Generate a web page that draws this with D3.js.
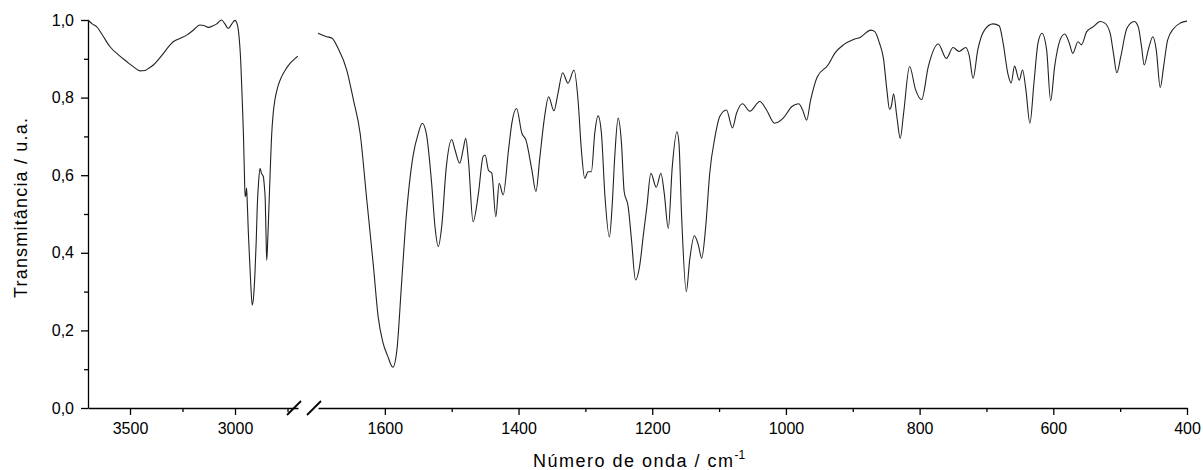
<!DOCTYPE html>
<meta charset="utf-8">
<style>
body { margin: 0; background: #fff; }
text { font-family: "Liberation Sans", Arial, sans-serif; fill: #000; }
.axis path, .axis line { stroke: #000; stroke-width: 1.3px; }
.axis text { font-size: 16px; }
.spectrum { fill: none; stroke: #222; stroke-width: 1.1px; stroke-linejoin: round; }
.break-mark { stroke: #000; stroke-width: 1.8px; }
</style>
<body>
<script src="https://cdn.jsdelivr.net/npm/d3@7"></script>
<script>

// left part of the broken axis (O-H / C-H stretch region)
var leftWavenumber = [3700, 3680, 3659, 3630, 3595, 3555, 3516, 3480, 3452, 3429, 3410, 3389, 3365, 3341,
  3318, 3294, 3260, 3230, 3200, 3167, 3145, 3127, 3105, 3087, 3064, 3048, 3032, 3015, 3000, 2990, 2984,
  2978, 2973, 2966, 2960, 2955, 2952, 2948, 2945, 2942, 2937, 2932, 2925, 2918, 2911, 2905, 2899, 2894,
  2888, 2881, 2874, 2865, 2860, 2856, 2852, 2849, 2845, 2840, 2833, 2825, 2818, 2810, 2795, 2778, 2758,
  2738, 2720, 2701];
var leftTransmittance = [1.0, 0.99, 0.983, 0.96, 0.931, 0.91, 0.893, 0.878, 0.869, 0.87, 0.876, 0.884, 0.898, 0.914,
  0.93, 0.944, 0.953, 0.961, 0.973, 0.987, 0.985, 0.981, 0.985, 0.99, 1.0, 0.99, 0.978, 0.99, 0.999, 0.99, 0.974,
  0.94, 0.897, 0.8, 0.708, 0.6, 0.545, 0.55, 0.567, 0.536, 0.46, 0.4, 0.32, 0.265, 0.29, 0.347, 0.43, 0.519,
  0.58, 0.618, 0.605, 0.596, 0.57, 0.536, 0.44, 0.381, 0.42, 0.493, 0.6, 0.708, 0.76, 0.794, 0.83, 0.854, 0.873,
  0.888, 0.898, 0.907];

// right part of the broken axis (fingerprint region)
var rightWavenumber = [1700, 1687, 1679, 1670, 1657, 1647, 1637, 1627, 1617, 1610, 1603, 1596, 1588, 1582, 1575,
  1568, 1558, 1550, 1544, 1538, 1530, 1525, 1520, 1515, 1508, 1500, 1495, 1488, 1483, 1479, 1475, 1468, 1460,
  1453, 1450, 1445, 1440, 1434, 1429, 1423, 1415, 1410, 1403, 1395, 1389, 1380, 1374, 1368, 1361, 1355, 1347,
  1341, 1334, 1326, 1317, 1311, 1306, 1301, 1296, 1291, 1286, 1281, 1276, 1271, 1264, 1260, 1256, 1251, 1246,
  1242, 1236, 1231, 1225, 1219, 1213, 1208, 1202, 1194, 1187, 1182, 1176, 1170, 1163, 1160, 1156, 1149, 1144,
  1137, 1131, 1126, 1120, 1114, 1106, 1099, 1089, 1080, 1074, 1065, 1054, 1039, 1029, 1017, 1004, 991, 981,
  975, 969, 963, 953, 937, 927, 914, 899, 889, 873, 867, 860, 854, 849, 845, 842, 839, 834, 829, 824, 815,
  806, 797, 787, 772, 760, 750, 741, 731, 726, 720, 713, 703, 690, 681, 675, 668, 663, 658, 651, 646, 641,
  635, 629, 623, 617, 610, 604, 598, 590, 583, 576, 571, 563, 558, 550, 540, 530, 523, 515, 510, 505, 499,
  490, 479, 473, 468, 464, 458, 451, 446, 440, 435, 429, 420, 410, 400];
var rightTransmittance = [0.966, 0.957, 0.953, 0.927, 0.871, 0.794, 0.708, 0.536, 0.364, 0.235, 0.17, 0.135, 0.105, 0.149, 0.321,
  0.493, 0.648, 0.708, 0.734, 0.708, 0.579, 0.467, 0.416, 0.467, 0.622, 0.692, 0.665, 0.631, 0.665, 0.695, 0.639, 0.48, 0.553,
  0.648, 0.652, 0.613, 0.605, 0.493, 0.579, 0.549, 0.665, 0.734, 0.772, 0.708, 0.691, 0.613, 0.558, 0.648, 0.751, 0.802, 0.766,
  0.811, 0.864, 0.837, 0.871, 0.794, 0.665, 0.592, 0.609, 0.609, 0.708, 0.753, 0.708, 0.553, 0.441, 0.52, 0.65, 0.747, 0.682,
  0.558, 0.519, 0.433, 0.33, 0.364, 0.45, 0.519, 0.605, 0.569, 0.605, 0.553, 0.463, 0.622, 0.712, 0.682, 0.493, 0.3, 0.381,
  0.444, 0.42, 0.386, 0.467, 0.605, 0.7, 0.751, 0.768, 0.722, 0.759, 0.784, 0.765, 0.79, 0.768, 0.734, 0.747, 0.777, 0.784,
  0.768, 0.742, 0.794, 0.854, 0.884, 0.914, 0.936, 0.95, 0.955, 0.974, 0.97, 0.94, 0.9, 0.82, 0.77, 0.78, 0.81, 0.75, 0.695, 0.759, 0.88,
  0.82, 0.795, 0.88, 0.938, 0.901, 0.929, 0.919, 0.929, 0.91, 0.85, 0.923, 0.974, 0.99, 0.985, 0.94, 0.862, 0.838, 0.881, 0.845, 0.871, 0.82,
  0.734, 0.837, 0.94, 0.966, 0.923, 0.792, 0.88, 0.948, 0.964, 0.94, 0.914, 0.944, 0.936, 0.97, 0.983, 0.996, 0.992, 0.966, 0.914, 0.864, 0.906,
  0.978, 0.996, 0.983, 0.931, 0.884, 0.923, 0.957, 0.923, 0.826, 0.88, 0.948, 0.978, 0.992, 0.997];

var leftMajorTicks = [3500, 3000],
    leftMinorTicks = [3250, 2750],
    rightMajorTicks = [1600, 1400, 1200, 1000, 800, 600, 400],
    rightMinorTicks = [1500, 1300, 1100, 900, 700, 500],
    yMajorTicks = [0, 0.2, 0.4, 0.6, 0.8, 1.0],
    yMinorTicks = [0.1, 0.3, 0.5, 0.7, 0.9];

var width = 1203,
    height = 470;

var xLeft = d3.scaleLinear().domain([3700, 2700]).range([88, 298]);
var xRight = d3.scaleLinear().domain([1700, 400]).range([318, 1187]);
var y = d3.scaleLinear().domain([0, 1]).range([408, 20]);

var svg = d3.select("body").append("svg")
    .attr("width", width)
    .attr("height", height);

var fmt = function(d) { return d3.format(".1f")(d).replace(".", ","); };

// y axis
svg.append("g")
    .attr("class", "axis")
    .attr("transform", "translate(88,0)")
    .call(d3.axisLeft(y).tickValues(yMajorTicks).tickFormat(fmt).tickSize(7).tickSizeOuter(0).tickPadding(7));
svg.append("g")
    .attr("class", "axis")
    .attr("transform", "translate(88,0)")
    .call(d3.axisLeft(y).tickValues(yMinorTicks).tickFormat("").tickSize(4).tickSizeOuter(0))
    .select(".domain").remove();

// broken x axis, two segments
function drawSegment(scale, major, minor) {
  svg.append("g")
      .attr("class", "axis")
      .attr("transform", "translate(0,408)")
      .call(d3.axisBottom(scale).tickValues(major).tickFormat(d3.format("d")).tickSize(7).tickSizeOuter(0).tickPadding(8));
  svg.append("g")
      .attr("class", "axis")
      .attr("transform", "translate(0,408)")
      .call(d3.axisBottom(scale).tickValues(minor).tickFormat("").tickSize(4).tickSizeOuter(0))
      .select(".domain").remove();
}
drawSegment(xLeft, leftMajorTicks, leftMinorTicks);
drawSegment(xRight, rightMajorTicks, rightMinorTicks);

// break marks
var bx = [xLeft.range()[1] - 4, xRight.range()[0] - 4];
svg.selectAll(".break-mark")
    .data(bx)
  .enter().append("line")
    .attr("class", "break-mark")
    .attr("x1", function(d) { return d - 7; })
    .attr("y1", 415)
    .attr("x2", function(d) { return d + 7; })
    .attr("y2", 401);

// spectrum
var line = function(scale) {
  return d3.line()
      .x(function(d) { return scale(d[0]); })
      .y(function(d) { return y(d[1]); })
      .curve(d3.curveMonotoneX);
};

svg.append("path")
    .datum(d3.zip(leftWavenumber, leftTransmittance))
    .attr("class", "spectrum")
    .attr("d", line(xLeft));

svg.append("path")
    .datum(d3.zip(rightWavenumber, rightTransmittance))
    .attr("class", "spectrum")
    .attr("d", line(xRight));

// axis titles
svg.append("text")
    .attr("transform", "translate(27,208)rotate(-90)")
    .attr("text-anchor", "middle")
    .style("font-size", "18px")
    .attr("textLength", 180)
    .attr("lengthAdjust", "spacing")
    .text("Transmitância / u.a.");

var xt = svg.append("text")
    .attr("x", 533)
    .attr("y", 467)
    .style("font-size", "18px");
xt.append("tspan")
    .attr("textLength", 200)
    .attr("lengthAdjust", "spacing")
    .text("Número de onda / cm");
xt.append("tspan")
    .attr("dy", -8)
    .style("font-size", "12px")
    .text("-1");

</script>
